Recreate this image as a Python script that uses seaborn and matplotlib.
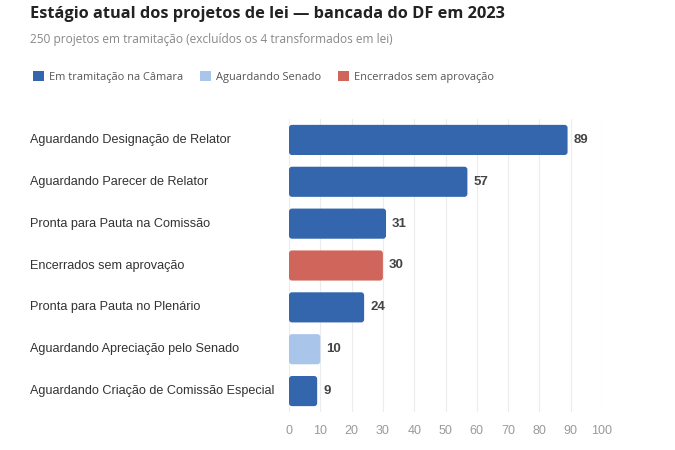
import matplotlib
matplotlib.use("Agg")
import matplotlib.pyplot as plt
import seaborn as sns
import pandas as pd
from matplotlib.patches import FancyBboxPatch, Patch
from matplotlib.transforms import blended_transform_factory

categories = [
    "Aguardando Designação de Relator",
    "Aguardando Parecer de Relator",
    "Pronta para Pauta na Comissão",
    "Encerrados sem aprovação",
    "Pronta para Pauta no Plenário",
    "Aguardando Apreciação pelo Senado",
    "Aguardando Criação de Comissão Especial",
]
values = [89, 57, 31, 30, 24, 10, 9]
groups = [
    "Em tramitação na Câmara",
    "Em tramitação na Câmara",
    "Em tramitação na Câmara",
    "Encerrados sem aprovação",
    "Em tramitação na Câmara",
    "Aguardando Senado",
    "Em tramitação na Câmara",
]
legend_order = ["Em tramitação na Câmara", "Aguardando Senado", "Encerrados sem aprovação"]
colors = {"Em tramitação na Câmara": "#3366ad",
          "Aguardando Senado": "#a9c6ea",
          "Encerrados sem aprovação": "#d0665b"}
xticks = [0, 10, 20, 30, 40, 50, 60, 70, 80, 90, 100]

df = pd.DataFrame({"cat": categories, "val": values, "grp": groups})

sns.set_theme(style="white")
plt.rcParams["font.family"] = ["Liberation Sans", "DejaVu Sans"]

fig = plt.figure(figsize=(6.75, 4.5), dpi=100)
ax = fig.add_axes([289/675, 1-412/450, (602-289)/675, (412-119)/450])

sns.barplot(data=df, y="cat", x="val", hue="grp", palette=colors, dodge=False,
            legend=False, ax=ax, width=0.72, order=categories, saturation=1)

ax.set_xlim(0, 100)
ax.set_ylim(6.5, -0.5)

# rounded bars
px_x = (602-289)/100.0
px_y = 42.0
aspect = (1/px_y)/(1/px_x)
for p in list(ax.patches):
    x, y = p.get_x(), p.get_y()
    w, h = p.get_width(), p.get_height()
    if w <= 0:
        continue
    fc = p.get_facecolor()
    p.set_visible(False)
    r = 3.0/px_x
    fb = FancyBboxPatch((x, y), w, h, boxstyle=f"round,pad=0,rounding_size={r}",
                        mutation_aspect=aspect, facecolor=fc, edgecolor="none", zorder=3)
    ax.add_patch(fb)

for i, v in enumerate(values):
    ax.text(v + 6/px_x, i, str(v), va="center", ha="left", fontsize=9.5,
            fontweight="bold", color="#444444")

ax.set_xticks(xticks)
ax.set_xticklabels([str(t) for t in xticks], color="#9a9a9a", fontsize=9)
ax.tick_params(axis="x", length=0, pad=9)
ax.set_yticks([])
ax.set_xlabel("")
ax.set_ylabel("")
for s in ax.spines.values():
    s.set_visible(False)
ax.grid(axis="x", color="#ececec", linewidth=0.8, zorder=0)
ax.set_axisbelow(True)

tr = blended_transform_factory(fig.transFigure, ax.transData)
for i, c in enumerate(categories):
    ax.text(30/675, i, c, transform=tr, ha="left", va="center", fontsize=9.1, color="#333333")

fig.text(30/675, 1-14/450, "Estágio atual dos projetos de lei — bancada do DF em 2023",
         fontsize=11.8, fontweight="bold", color="#222222", va="center", family="Open Sans")
fig.text(30/675, 1-39/450, "250 projetos em tramitação (excluídos os 4 transformados em lei)",
         fontsize=8.6, color="#888888", va="center", family="Open Sans")

handles = [Patch(facecolor=colors[g], edgecolor="none") for g in legend_order]
leg = fig.legend(handles, legend_order, loc="center left", bbox_to_anchor=(23/675, 1-77/450),
                 ncol=3, frameon=False, handlelength=1.0, handleheight=1.0,
                 handletextpad=0.45, columnspacing=1.55, prop={"family": "Open Sans", "size": 7.95})
for t in leg.get_texts():
    t.set_color("#555555")

fig.savefig("out.png", dpi=100, facecolor="white")
